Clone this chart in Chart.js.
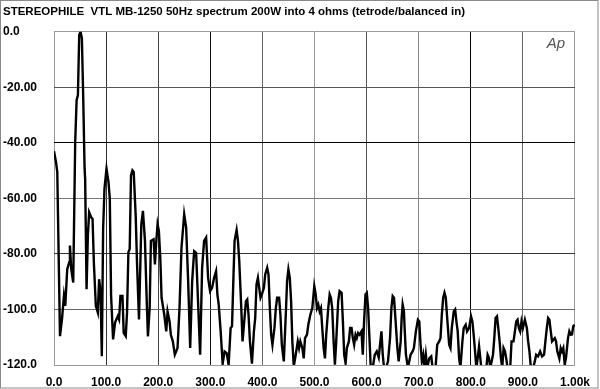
<!DOCTYPE html>
<html>
<head>
<meta charset="utf-8">
<script src="https://cdn.jsdelivr.net/npm/chart.js@4/dist/chart.umd.min.js"></script>
<style>
  html, body { margin: 0; padding: 0; background: #fff; }
  #wrap { width: 600px; height: 389px; position: relative; }
</style>
</head>
<body>
<div id="wrap"><canvas id="spectrum"></canvas></div>
<script>
/* =========================
   DATA
========================= */
const titleText = "STEREOPHILE  VTL MB-1250 50Hz spectrum 200W into 4 ohms (tetrode/balanced in)";

const xTickLabels = ["0.0", "100.0", "200.0", "300.0", "400.0", "500.0", "600.0", "700.0", "800.0", "900.0", "1.00k"];
const yTickValues = [-120, -100, -80, -60, -40, -20, 0];
const yTickLabels = ["-120.0", "-100.0", "-80.00", "-60.00", "-40.00", "-20.00", "0.0"];

// frequency (Hz) and level (dB)
const freqHz = [
  0, 3.8, 6.3, 11.5, 15.3, 19.1, 21.6, 25.4, 29.3, 30.6, 33.1, 36.9, 40.7, 43.4, 45.9, 48.4, 51.0, 53.5, 56.0, 58.7,
  59.8, 62.5, 65.0, 67.5, 71.3, 74.0, 76.5, 80.3, 84.1, 86.6, 89.3, 91.8, 94.3, 96.9, 100.8, 104.6, 107.1, 109.6, 113.4, 117.2,
  122.4, 124.9, 127.5, 131.4, 133.8, 137.7, 140.2, 142.8, 145.3, 147.8, 150.5, 153.0, 156.8, 159.3, 163.1, 167.6, 170.7, 174.6, 178.4, 180.3,
  183.6, 186.0, 191.2, 193.7, 196.4, 198.8, 201.3, 204.0, 206.5, 211.7, 215.5, 218.0, 221.8, 224.3, 228.1, 231.9, 237.1, 240.9, 244.7, 249.9,
  253.7, 257.5, 261.4, 265.2, 269.0, 272.8, 276.7, 280.5, 284.3, 288.1, 292.0, 295.8, 299.6, 303.4, 307.3, 311.1, 313.6, 316.1, 319.9, 323.7,
  327.5, 331.4, 335.2, 339.0, 341.7, 344.2, 346.6, 350.5, 353.1, 355.6, 359.5, 361.9, 364.6, 368.4, 370.9, 373.4, 376.1, 379.9, 383.7, 386.2,
  388.7, 391.4, 393.9, 396.4, 399.0, 402.9, 405.4, 409.2, 411.7, 414.3, 416.8, 419.3, 423.1, 425.8, 428.3, 432.1, 434.6, 437.3, 441.1, 444.9,
  447.4, 449.9, 452.6, 455.1, 457.5, 460.2, 464.0, 467.9, 470.4, 472.8, 476.7, 479.3, 481.8, 485.6, 488.1, 492.0, 495.8, 499.6, 502.3, 504.8,
  507.3, 509.9, 512.4, 514.9, 517.6, 520.1, 522.5, 526.4, 529.1, 531.5, 534.0, 536.7, 539.2, 541.7, 545.5, 548.2, 552.0, 554.5, 557.0, 559.7,
  562.1, 566.0, 568.4, 571.1, 573.6, 576.1, 578.8, 581.2, 583.7, 586.4, 590.2, 592.7, 595.2, 597.9, 600.4, 602.9, 605.5, 608.0, 611.8, 615.7,
  619.5, 623.3, 625.8, 628.5, 631.0, 633.5, 637.3, 641.1, 645.0, 647.6, 650.1, 652.6, 655.3, 659.1, 661.6, 665.4, 667.3, 669.2, 671.7, 673.0,
  675.5, 679.3, 684.5, 688.3, 690.8, 694.6, 698.5, 701.1, 703.6, 706.1, 708.8, 711.3, 713.8, 716.4, 720.3, 724.1, 726.6, 732.3, 735.6, 739.4,
  741.9, 744.4, 747.0, 749.5, 752.0, 754.7, 758.5, 761.0, 763.5, 767.3, 770.0, 772.4, 774.9, 777.6, 780.1, 783.9, 786.4, 790.2, 792.9, 796.7,
  800.5, 803.0, 805.5, 808.2, 810.7, 813.2, 815.9, 818.3, 820.2, 829.8, 832.3, 834.6, 837.5, 842.6, 845.1, 847.6, 850.3, 852.8, 855.3, 857.9,
  860.4, 862.9, 865.6, 868.0, 870.5, 875.7, 878.2, 882.0, 884.7, 887.2, 889.7, 892.3, 894.8, 897.3, 900.0, 903.8, 907.6, 910.1, 912.6, 915.3,
  919.7, 922.9, 925.4, 929.2, 933.1, 936.9, 940.7, 943.2, 945.9, 948.4, 950.9, 953.5, 956.0, 961.2, 963.6, 966.1, 970.0, 972.6, 975.1, 977.6,
  980.3, 982.8, 986.6, 989.1, 991.8, 994.2, 996.8, 999.4
];

const levelDb = [
  -43.0, -46.9, -50.5, -109.6, -103.6, -95.1, -98.7, -85.5, -83.0, -77.0, -85.5, -90.3, -39.6, -24.6, -22.8, -1.1, 0, -2.3, -22.8, -49.3,
  -52.9, -92.7, -73.4, -65.0, -66.8, -67.4, -83.0, -98.7, -101.1, -89.1, -93.4, -116.8, -71.0, -56.5, -49.3, -54.1, -60.1, -95.1, -110.8, -104.7,
  -102.4, -103.6, -95.1, -95.1, -108.4, -109.6, -101.1, -79.4, -78.2, -51.7, -49.9, -50.5, -66.2, -83.0, -103.6, -69.3, -64.5, -75.3, -99.5, -109.7,
  -99.5, -75.3, -74.7, -83.8, -75.3, -69.3, -71.7, -81.4, -95.8, -101.9, -107.9, -100.7, -104.3, -109.1, -111.5, -116.3, -113.9, -99.5, -77.8, -65.7,
  -70.5, -89.8, -113.9, -89.8, -79.0, -79.6, -98.2, -116.3, -85.0, -75.3, -74.1, -88.6, -93.4, -92.2, -88.6, -86.2, -94.6, -98.2, -107.9, -119.5,
  -115.1, -115.7, -119.9, -106.7, -106.1, -89.8, -75.3, -71.4, -75.3, -82.6, -99.5, -111.5, -105.5, -97.0, -96.4, -101.9, -111.5, -119.5, -107.9, -103.1,
  -91.0, -88.6, -92.2, -95.8, -94.6, -92.2, -87.4, -85.0, -87.4, -99.5, -109.1, -112.7, -106.7, -99.5, -95.8, -95.8, -101.9, -112.7, -118.7, -101.9,
  -89.8, -85.6, -88.6, -97.0, -111.5, -120.5, -116.3, -111.5, -113.9, -111.5, -113.9, -117.6, -110.3, -109.1, -105.5, -101.9, -99.5, -91.6, -94.6, -99.5,
  -98.3, -100.7, -99.5, -106.7, -113.9, -117.6, -109.1, -99.5, -94.6, -95.8, -99.5, -111.5, -119.9, -111.5, -97.0, -93.4, -94.0, -104.3, -116.3, -119.4,
  -113.9, -111.5, -106.7, -106.7, -110.3, -112.7, -109.1, -110.3, -108.5, -109.1, -107.9, -116.3, -104.3, -94.6, -94.0, -99.5, -110.3, -121, -121, -116.3,
  -115.1, -117.3, -112.7, -107.9, -116.3, -121, -121, -118.7, -110.3, -99.5, -95.2, -95.8, -103.1, -113.9, -118.7, -111.5, -103.1, -98.2, -100.7, -106.7,
  -116.3, -121, -116.3, -115.1, -113.9, -107.9, -103.7, -104.3, -112.7, -118.7, -116.3, -121, -116.3, -121, -117.6, -116.9, -121, -121, -112.7, -111.5,
  -110.3, -101.9, -95.8, -94.0, -95.8, -103.1, -112.7, -113.9, -106.7, -100.7, -100.0, -104.3, -107.9, -117.6, -121, -111.5, -106.7, -105.5, -107.9, -106.7,
  -102.5, -104.3, -109.1, -115.1, -121, -117.6, -113.3, -117.6, -121, -121, -116.3, -117.3, -121, -116.3, -110.3, -103.1, -102.5, -106.7, -111.5, -117.6,
  -121, -113.9, -115.1, -117.6, -121, -121, -111.5, -111.5, -107.9, -104.3, -103.7, -106.7, -107.9, -104.3, -106.7, -103.7, -106.7, -111.5, -115.1, -121,
  -121, -118.7, -116.3, -116.9, -115.1, -116.9, -116.3, -111.5, -106.7, -103.1, -103.7, -107.9, -111.5, -110.3, -111.5, -115.1, -117.6, -113.9, -115.1, -113.9,
  -119.9, -117.3, -110.3, -107.9, -109.1, -109.0, -106.0, -105.5
];

/* =========================
   STYLE
========================= */
const FONT = "'Liberation Sans', Arial, Helvetica, sans-serif";
const xGridColors = ["#9a9a9a", "#333", "#444", "#111", "#666", "#999", "#555", "#888", "#000", "#666", "#9a9a9a"];
const yGridColors = ["#9a9a9a", "#666", "#333", "#777", "#000", "#555", "#9a9a9a"];

// outer frame + "Ap" mark
const framePlugin = {
  id: "frame",
  afterDraw(chart) {
    const ctx = chart.ctx;
    const area = chart.chartArea;
    ctx.save();
    ctx.strokeStyle = "#8a8a8a";
    ctx.lineWidth = 1;
    ctx.strokeRect(0.5, 0.5, 597.5, 387.5);
    ctx.fillStyle = "#555";
    ctx.font = "italic 15px " + FONT;
    ctx.textAlign = "right";
    ctx.textBaseline = "alphabetic";
    ctx.fillText("Ap", area.right - 10, area.top + 16);
    ctx.restore();
  }
};

/* =========================
   CHART
========================= */
const points = freqHz.map((f, i) => ({ x: f, y: levelDb[i] }));

new Chart(document.getElementById("spectrum"), {
  type: "line",
  data: {
    datasets: [{
      data: points,
      borderColor: "#000",
      borderWidth: 2.4,
      pointRadius: 0,
      tension: 0,
      fill: false
    }]
  },
  options: {
    responsive: true,
    maintainAspectRatio: false,
    animation: false,
    layout: { padding: { left: 3, right: 24, top: 0, bottom: 0 } },
    plugins: {
      legend: { display: false },
      tooltip: { enabled: false },
      title: {
        display: true,
        text: titleText,
        align: "start",
        color: "#000",
        font: { family: FONT, size: 11.5, weight: "bold" },
        padding: { top: 5, bottom: 13 }
      }
    },
    scales: {
      x: {
        type: "linear",
        min: 0,
        max: 1000,
        ticks: {
          stepSize: 100,
          autoSkip: false,
          maxRotation: 0,
          padding: 10,
          color: "#000",
          font: { family: FONT, size: 12, weight: "bold" },
          callback: (v, i) => xTickLabels[i]
        },
        grid: {
          drawTicks: false,
          lineWidth: 1,
          color: ctx => xGridColors[ctx.index] || "#888"
        },
        border: { display: false },
        afterFit: s => { s.height = 24; }
      },
      y: {
        min: -120,
        max: 0,
        ticks: {
          stepSize: 20,
          crossAlign: "far",
          padding: 4,
          color: "#000",
          font: { family: FONT, size: 12, weight: "bold" },
          callback: v => yTickLabels[yTickValues.indexOf(v)]
        },
        grid: {
          drawTicks: false,
          lineWidth: 1,
          color: ctx => yGridColors[ctx.index] || "#888"
        },
        border: { display: false },
        afterFit: s => { s.width = 51; }
      }
    }
  },
  plugins: [framePlugin]
});
</script>
</body>
</html>
